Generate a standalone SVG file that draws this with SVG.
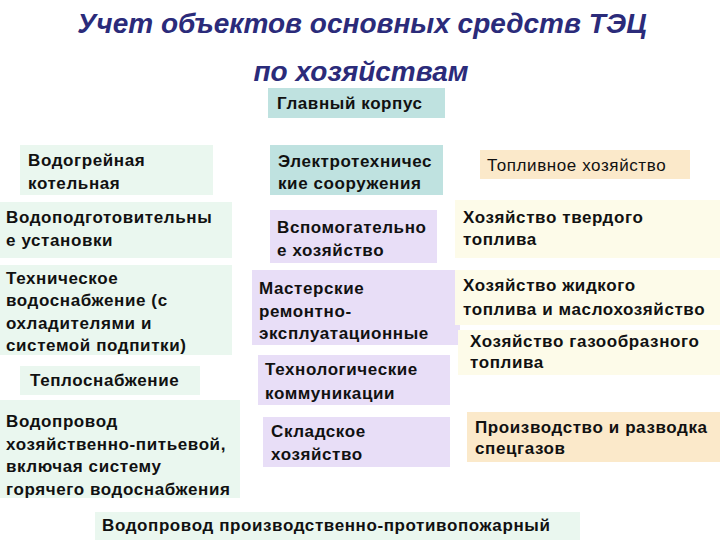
<svg xmlns="http://www.w3.org/2000/svg" width="720" height="540" viewBox="0 0 720 540">
<style>
.t{font-family:"Liberation Sans",Arial,sans-serif;font-size:17px;letter-spacing:0.6px;font-weight:bold;fill:#111}
.title{font-family:"Liberation Sans",Arial,sans-serif;font-size:28px;font-weight:bold;font-style:italic;fill:#2b2b7a}
.g{fill:#eaf7ef}
.b{fill:#bfe2e0}
.v{fill:#e8def7}
.y{fill:#fdfbe9}
.p{fill:#fbe9ca}
</style>
<rect width="720" height="540" fill="#ffffff"/>
<text class="title" x="362" y="33" text-anchor="middle">Учет объектов основных средств ТЭЦ</text>
<text class="title" x="361" y="81" text-anchor="middle">по хозяйствам</text>
<g id="glavny"><rect class="b" x="268" y="88" width="177" height="30"/><text class="t" x="277" y="109">Главный корпус</text></g>
<g id="vodogr"><rect class="g" x="20" y="145" width="193" height="50"/><text class="t" x="28" y="166">Водогрейная</text><text class="t" x="28" y="189">котельная</text></g>
<g id="vodopodg"><rect class="g" x="0" y="202" width="232" height="56"/><text class="t" x="6" y="223">Водоподготовительны</text><text class="t" x="6" y="246">е установки</text></g>
<g id="tehvod"><rect class="g" x="0" y="265" width="232" height="90"/><text class="t" x="6" y="284">Техническое</text><text class="t" x="6" y="306">водоснабжение (с</text><text class="t" x="6" y="329">охладителями и</text><text class="t" x="6" y="351">системой подпитки)</text></g>
<g id="teplo"><rect class="g" x="20" y="366" width="180" height="29"/><text class="t" x="30" y="386">Теплоснабжение</text></g>
<g id="vodhoz"><rect class="g" x="0" y="400" width="240" height="98"/><text class="t" x="6" y="427">Водопровод</text><text class="t" x="6" y="450">хозяйственно-питьевой,</text><text class="t" x="6" y="472">включая систему</text><text class="t" x="6" y="495">горячего водоснабжения</text></g>
<g id="vodprot"><rect class="g" x="95" y="512" width="485" height="28"/><text class="t" x="102" y="531">Водопровод производственно-противопожарный</text></g>
<g id="elektro"><rect class="b" x="270" y="145" width="173" height="50"/><text class="t" x="278" y="167">Электротехничес</text><text class="t" x="278" y="189">кие сооружения</text></g>
<g id="vspom"><rect class="v" x="270" y="210" width="167" height="53"/><text class="t" x="277" y="233">Вспомогательно</text><text class="t" x="277" y="256">е хозяйство</text></g>
<g id="master"><rect class="v" x="252" y="270" width="208" height="75"/><text class="t" x="259" y="294">Мастерские</text><text class="t" x="259" y="317">ремонтно-</text><text class="t" x="259" y="339">эксплуатационные</text></g>
<g id="tehkom"><rect class="v" x="258" y="355" width="192" height="50"/><text class="t" x="265" y="375">Технологические</text><text class="t" x="265" y="399">коммуникации</text></g>
<g id="sklad"><rect class="v" x="263" y="417" width="187" height="50"/><text class="t" x="271" y="437">Складское</text><text class="t" x="271" y="460">хозяйство</text></g>
<g id="toplivo"><rect class="p" x="480" y="150" width="210" height="29"/><text class="t" x="487" y="171" style="font-weight:normal">Топливное хозяйство</text></g>
<g id="tverd"><rect class="y" x="455" y="200" width="265" height="58"/><text class="t" x="463" y="223">Хозяйство твердого</text><text class="t" x="463" y="245">топлива</text></g>
<g id="zhid"><rect class="y" x="455" y="270" width="265" height="55"/><text class="t" x="463" y="291">Хозяйство жидкого</text><text class="t" x="463" y="315">топлива и маслохозяйство</text></g>
<g id="gaz"><rect class="y" x="458" y="330" width="262" height="45"/><text class="t" x="470" y="347">Хозяйство газообразного</text><text class="t" x="470" y="368">топлива</text></g>
<g id="specgaz"><rect class="p" x="467" y="412" width="253" height="50"/><text class="t" x="475" y="433">Производство и разводка</text><text class="t" x="475" y="454">спецгазов</text></g>
<g id="connectors"></g>
</svg>
